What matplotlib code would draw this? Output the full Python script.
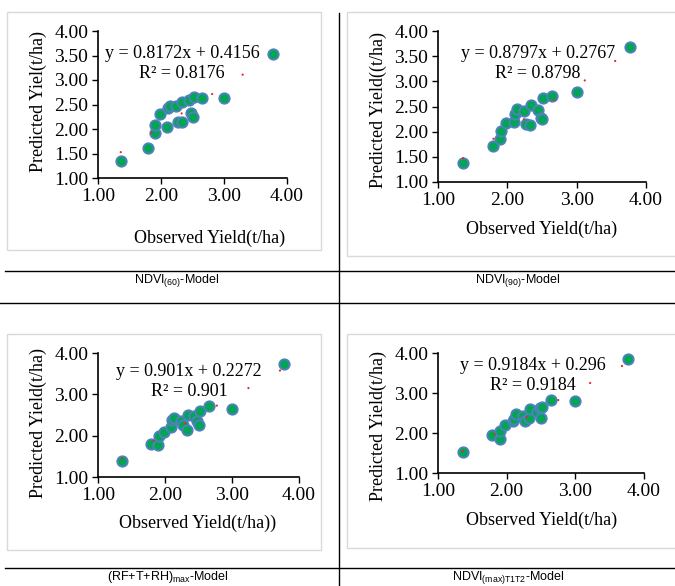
import numpy as np
import matplotlib
matplotlib.use("Agg")
import matplotlib.pyplot as plt
from matplotlib.patches import Rectangle
from matplotlib.lines import Line2D

plt.rcParams['font.family'] = 'Liberation Serif'
plt.rcParams['mathtext.default'] = 'regular'

# observed yield (same for every model)
observed = [1.36, 1.79, 1.90, 1.91, 1.98, 2.09, 2.11, 2.14, 2.24, 2.27,
            2.33, 2.34, 2.44, 2.48, 2.50, 2.52, 2.65, 3.00, 3.77]

# predicted yield per model
pred_ndvi60 = [1.35, 1.62, 1.92, 2.08, 2.30, 2.05, 2.42, 2.47, 2.46, 2.15,
               2.15, 2.55, 2.59, 2.32, 2.24, 2.66, 2.63, 2.64, 3.54]
pred_ndvi90 = [1.38, 1.72, 1.86, 2.02, 2.17, 2.19, 2.36, 2.46, 2.41, 2.15,
               2.14, 2.52, 2.43, 2.28, 2.25, 2.66, 2.71, 2.79, 3.68]
pred_rfth = [1.39, 1.81, 1.78, 2.00, 2.10, 2.22, 2.38, 2.42, 2.36, 2.26,
             2.14, 2.50, 2.48, 2.36, 2.27, 2.60, 2.72, 2.64, 3.73]
pred_ndvimax = [1.53, 1.94, 1.84, 2.04, 2.20, 2.31, 2.36, 2.48, 2.43, 2.30,
                2.37, 2.59, 2.53, 2.62, 2.37, 2.66, 2.82, 2.80, 3.85]

# trendline coefficients (as printed on the charts)
slopes = [0.8172, 0.8797, 0.901, 0.9184]
intercepts = [0.4156, 0.2767, 0.2272, 0.296]
r2_text = ["0.8176", "0.8798", "0.901", "0.9184"]

ylabels = ["Predicted Yiel(t/ha)", "Predicted Yield((t/ha)",
           "Predicted Yield(t/ha)", "Predicted Yield(t/ha)"]
xlabels = ["Observed Yield(t/ha)", "Observed Yield(t/ha)",
           "Observed Yield(t/ha))", "Observed Yield(t/ha)"]
captions = ["NDVI$_{(60)}$-Model", "NDVI$_{(90)}$-Model",
            "(RF+T+RH)$_{max}$-Model", "NDVI$_{(max)T1T2}$-Model"]
yticks_sets = [[1.0, 1.5, 2.0, 2.5, 3.0, 3.5, 4.0],
               [1.0, 1.5, 2.0, 2.5, 3.0, 3.5, 4.0],
               [1.0, 2.0, 3.0, 4.0],
               [1.0, 2.0, 3.0, 4.0]]
xticks = [1.0, 2.0, 3.0, 4.0]

W, H = 675, 586
fig = plt.figure(figsize=(W / 100, H / 100), dpi=100)


def fx(x):
    return x / W


def fy(y):
    return 1 - y / H


# layout in pixels: axes (left, top, right, bottom), panel box, text centres
axes_px = [(98, 31, 287, 178), (438, 31, 646, 182),
           (98, 353, 299, 477), (438, 353, 644, 473)]
box_px = [(7, 12, 321, 250), (347, 12, 690, 256),
          (7, 334, 321, 550), (347, 334, 690, 548)]
eq_px = [(182, 53), (538, 53), (189, 372), (533, 365)]
xlab_px = [(210, 238), (542, 229), (198, 523), (542, 520)]
ylab_px = [(38, 102), (378, 110), (38, 423), (378, 426)]
cap_px = [(177, 281), (518, 281), (168, 577), (508, 577)]

preds = [pred_ndvi60, pred_ndvi90, pred_rfth, pred_ndvimax]

# panel frames (light grey)
for (l, t, r, b) in box_px:
    fig.patches.append(Rectangle((fx(l), fy(b)), fx(r - l), (b - t) / H,
                                 transform=fig.transFigure, fill=False,
                                 edgecolor='#d9d9d9', lw=1.0))

# table lines
fig.add_artist(Line2D([fx(5), 1], [fy(271), fy(271)], color='black', lw=1))
fig.add_artist(Line2D([0, 1], [fy(303), fy(303)], color='black', lw=1))
fig.add_artist(Line2D([fx(5), 1], [fy(568), fy(568)], color='black', lw=1))
fig.add_artist(Line2D([fx(339), fx(339)], [fy(13), 0], color='black', lw=1))

for i in range(4):
    l, t, r, b = axes_px[i]
    ax = fig.add_axes([fx(l), fy(b), fx(r - l), (b - t) / H])
    obs = np.array(observed)
    ax.scatter(obs, preds[i], s=55, color='#00a651', edgecolor='#4f81bd',
               linewidth=1.4, zorder=3)
    xs = np.array([obs.min(), obs.max()])
    ax.plot(xs, slopes[i] * xs + intercepts[i], color='#e8262a', lw=1.6,
            linestyle=(0, (0.05, 16.2)), dash_capstyle='round', zorder=4)
    ax.set_xlim(1, 4)
    ax.set_ylim(1, 4)
    ax.set_xticks(xticks)
    ax.set_yticks(yticks_sets[i])
    ax.xaxis.set_major_formatter('{x:.2f}')
    ax.yaxis.set_major_formatter('{x:.2f}')
    ax.tick_params(direction='out', length=4, width=1, labelsize=14, pad=3)
    for side in ['top', 'right']:
        ax.spines[side].set_visible(False)
    for side in ['left', 'bottom']:
        ax.spines[side].set_linewidth(1.2)
    ax.patch.set_alpha(0)

    ex, ey = eq_px[i]
    fig.text(fx(ex), fy(ey), f"y = {slopes[i]}x + {intercepts[i]}",
             ha='center', va='center', fontsize=13)
    fig.text(fx(ex), fy(ey + 20), f"R² = {r2_text[i]}",
             ha='center', va='center', fontsize=13)
    lx, ly = xlab_px[i]
    fig.text(fx(lx), fy(ly), xlabels[i], ha='center', va='center', fontsize=13)
    yx, yy = ylab_px[i]
    fig.text(fx(yx), fy(yy), ylabels[i], ha='center', va='center',
             rotation=90, fontsize=13)
    cx, cy = cap_px[i]
    fig.text(fx(cx), fy(cy), captions[i], ha='center', va='center',
             fontsize=9, family='Liberation Sans')

fig.savefig("out.png", dpi=100)
